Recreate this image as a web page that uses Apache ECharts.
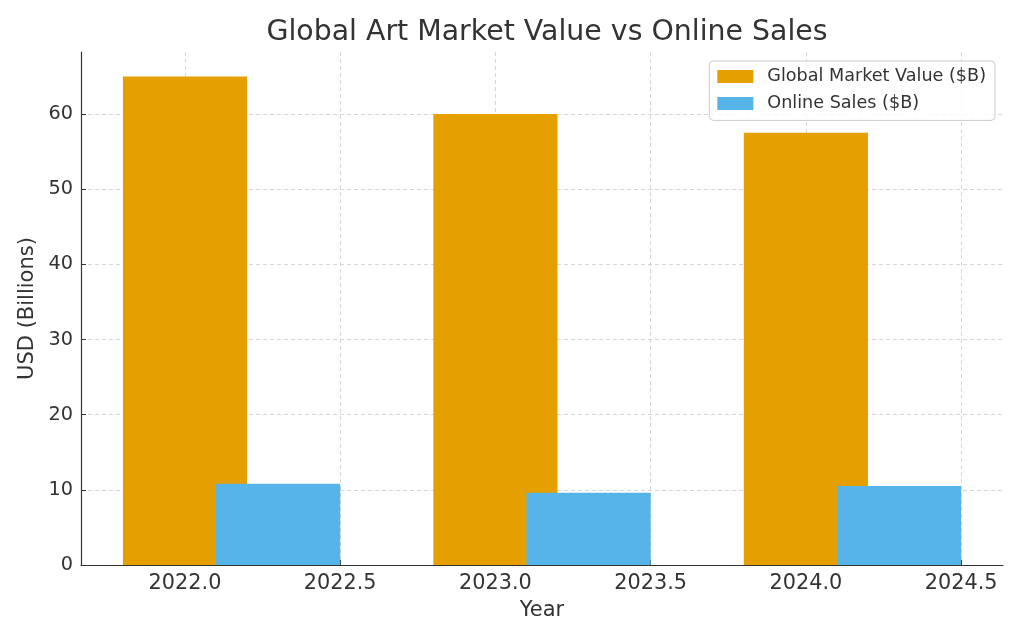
<!DOCTYPE html>
<html>
<head>
<meta charset="utf-8">
<script src="https://cdn.jsdelivr.net/npm/echarts@6/dist/echarts.min.js"></script>
<style>html,body{margin:0;padding:0;background:#fff}#c{width:1024px;height:640px}</style>
</head>
<body>
<div id="c"></div>
<script>
const years = [2022, 2023, 2024];
const globalMarketValue = [65, 60, 57.5];
const onlineSales = [10.8, 9.6, 10.5];
const xTicks = [2022.0, 2022.5, 2023.0, 2023.5, 2024.0, 2024.5];
const yTicks = [0, 10, 20, 30, 40, 50, 60];
const seriesNames = ['Global Market Value ($B)', 'Online Sales ($B)'];

const BAR_W = 0.4;
const OFFSETS = [0, 0.3];
const FONT = 'DejaVu Sans';

function makeRender(offset) {
  return function (params, api) {
    const x = api.value(0) + offset;
    const v = api.value(1);
    const p0 = api.coord([x - BAR_W / 2, v]);
    const p1 = api.coord([x + BAR_W / 2, 0]);
    return {
      type: 'rect',
      shape: { x: p0[0], y: p0[1], width: p1[0] - p0[0], height: p1[1] - p0[1] },
      style: api.style()
    };
  };
}

const chart = echarts.init(document.getElementById('c'), null, { renderer: 'canvas' });
const gridLine = { show: true, lineStyle: { color: '#cccccc', type: [4, 3], width: 0.8 } };
chart.setOption({
  animation: false,
  backgroundColor: '#ffffff',
  title: {
    text: 'Global Art Market Value vs Online Sales',
    left: 542, textAlign: 'center', top: 14,
    textStyle: { fontFamily: FONT, fontSize: 28.4, fontWeight: 'normal', color: '#333333' }
  },
  legend: {
    orient: 'vertical', right: 29, top: 61,
    padding: [6.5, 9, 8, 8],
    itemWidth: 36, itemHeight: 13, itemGap: 8.9,
    icon: 'rect',
    backgroundColor: 'rgba(255,255,255,0.8)',
    borderColor: '#cccccc', borderWidth: 1, borderRadius: 4,
    textStyle: { fontFamily: FONT, fontSize: 17.6, color: '#333333', padding: [0, 0, 0, 9] },
    data: seriesNames
  },
  grid: { left: 81, right: 21, top: 52, bottom: 75, containLabel: false },
  xAxis: {
    type: 'value', min: 2021.665, max: 2024.635,
    name: 'Year', nameLocation: 'middle', nameGap: 35,
    nameTextStyle: { fontFamily: FONT, fontSize: 21, color: '#333333' },
    axisLine: { show: true, lineStyle: { color: '#333333', width: 1.2 } },
    axisTick: { show: true, inside: true, length: 5, customValues: xTicks, lineStyle: { color: '#333333' } },
    axisLabel: { customValues: xTicks, margin: 8, fontFamily: FONT, fontSize: 20.8, color: '#333333',
      formatter: v => Number(v).toFixed(1) },
    splitLine: gridLine
  },
  yAxis: {
    type: 'value', min: 0, max: 68.25,
    name: 'USD (Billions)', nameLocation: 'middle', nameGap: 42, nameRotate: 90,
    nameTextStyle: { fontFamily: FONT, fontSize: 21, color: '#333333' },
    axisLine: { show: true, lineStyle: { color: '#333333', width: 1.2 } },
    axisTick: { show: true, inside: true, length: 5, customValues: yTicks, lineStyle: { color: '#333333' } },
    axisLabel: { customValues: yTicks, margin: 8, fontFamily: FONT, fontSize: 19.3, color: '#333333' },
    splitLine: gridLine
  },
  series: [
    {
      name: seriesNames[0], type: 'custom', renderItem: makeRender(OFFSETS[0]),
      itemStyle: { color: '#E69F00' }, encode: { x: 0, y: 1 },
      data: years.map((y, i) => [y, globalMarketValue[i]]), z: 2
    },
    {
      name: seriesNames[1], type: 'custom', renderItem: makeRender(OFFSETS[1]),
      itemStyle: { color: '#56B4E9' }, encode: { x: 0, y: 1 },
      data: years.map((y, i) => [y, onlineSales[i]]), z: 3
    }
  ]
});
</script>
</body>
</html>
